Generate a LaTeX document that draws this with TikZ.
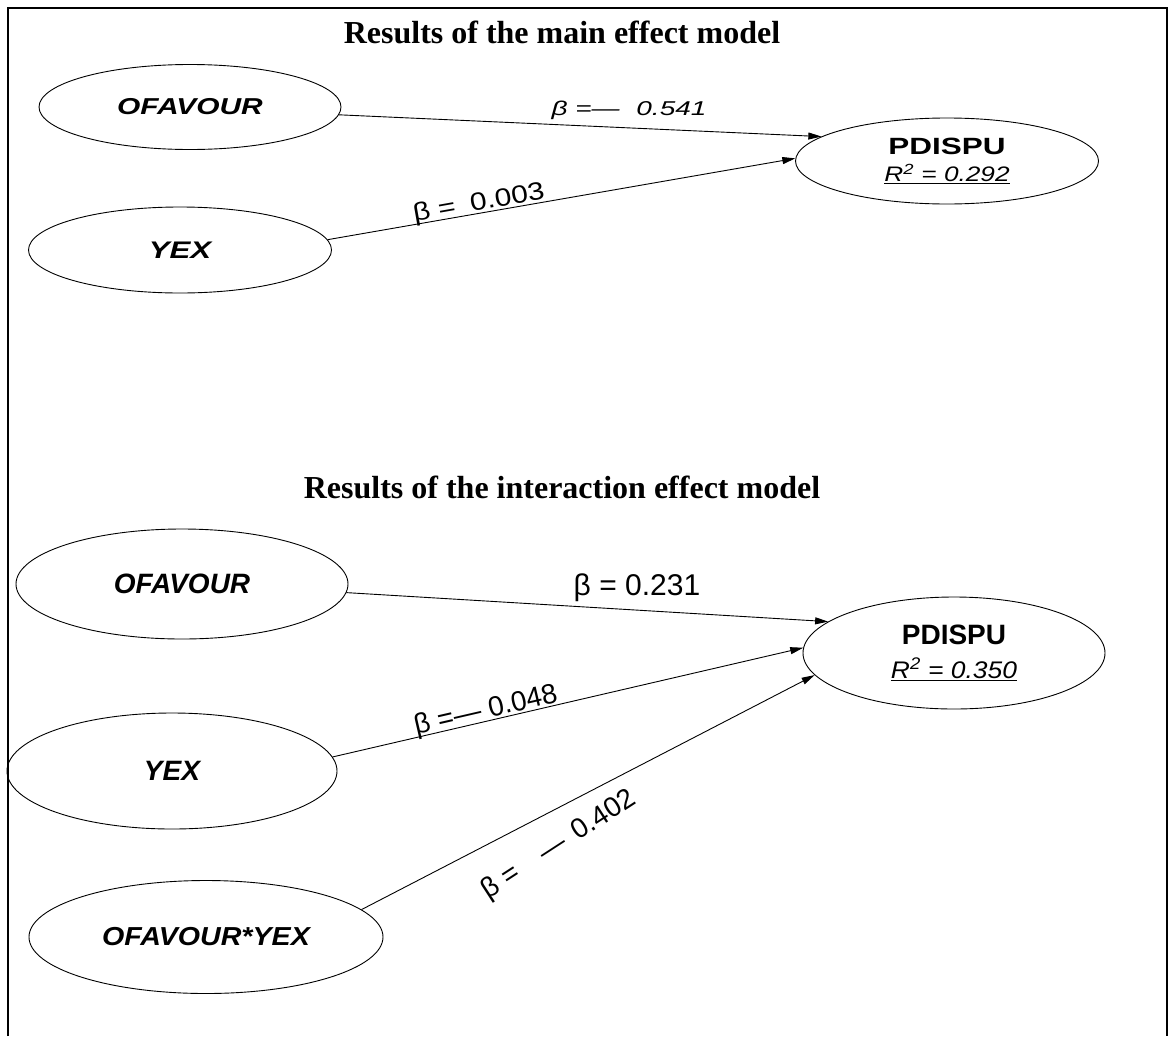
\documentclass[tikz,border=0pt]{standalone}
\usepackage{fontspec}
\setmainfont{Liberation Serif}
\setsansfont{Liberation Sans}
\usetikzlibrary{shapes.geometric,arrows.meta}

% font size shortcut: size and baselineskip equal
\newcommand{\fsz}[1]{\fontsize{#1}{#1}\selectfont}

\begin{document}
\begin{tikzpicture}[x=1pt,y=-1pt,
  var/.style={draw,ellipse,line width=0.9pt,inner sep=0pt,font=\sffamily},
  heading/.style={font=\rmfamily\bfseries\fsz{32},anchor=base,inner sep=0pt},
  effect/.style={line width=0.9pt,-{Triangle[length=13pt,width=7pt]}},
  coef/.style={font=\sffamily,inner sep=0pt}]

\path[use as bounding box] (0,0) rectangle (1169,1036);
% outer frame, open at the bottom
\draw[line width=2.5pt] (8,1036) -- (8,8) -- (1167,8) -- (1167,1036);

% ---------- main effect model ----------
\node[heading] (h1) at (562,43) {Results of the main effect model};

\node[var,minimum width=302pt,minimum height=85pt] (o1) at (190,107)
  {\scalebox{1.3}[1]{\fsz{23}\bfseries\itshape OFAVOUR}};
\node[var,minimum width=303pt,minimum height=86pt] (y1) at (180,250)
  {\scalebox{1.3}[1]{\fsz{24}\bfseries\itshape YEX}};
\node[var,minimum width=303pt,minimum height=86pt,align=center,
      font=\sffamily\fontsize{23}{27}\selectfont] (p1) at (947,161)
  {\scalebox{1.34}[1]{\fsz{23.5}\bfseries PDISPU}\\
   \scalebox{1.25}[1]{\fsz{21}\itshape\underline{R\textsuperscript{2} = 0.292}}};

\draw[effect] (o1.-3) -- (p1.169);
\draw[effect] (y1.4) -- (p1.179);

\node[coef] (c1) at (629,110)
  {\scalebox{1.4}[1]{\fsz{20}\itshape β =—\hspace{0.6em}0.541}};
\node[coef,rotate=10] (c2) at (479,204)
  {\scalebox{1.2}[1]{\fsz{25}β =\hspace{0.5em}0.003}};

% ---------- interaction effect model ----------
\node[heading] (h2) at (562,498) {Results of the interaction effect model};

\node[var,minimum width=332pt,minimum height=110pt] (o2) at (182,584)
  {\fsz{28}\bfseries\itshape OFAVOUR};
\node[var,minimum width=330pt,minimum height=116pt] (y2) at (172,771)
  {\fsz{28}\bfseries\itshape YEX};
\node[var,minimum width=354pt,minimum height=113pt] (oy) at (206,937)
  {\scalebox{1.1}[1]{\fsz{26}\bfseries\itshape OFAVOUR*YEX}};
\node[var,minimum width=302pt,minimum height=112pt,align=center,
      font=\sffamily\fontsize{28}{34}\selectfont] (p2) at (954,653)
  {{\bfseries PDISPU}\\
   \scalebox{1.1}[1]{\fsz{24}\itshape\underline{R\textsuperscript{2} = 0.350}}};

\draw[effect] (o2.-3) -- (p2.166);
\draw[effect] (y2.5) -- (p2.178);
\draw[effect] (oy.10) -- (p2.-171);

\node[coef,anchor=base] (c3) at (637,595) {\fsz{30}β = 0.231};
\node[coef,rotate=13] (c4) at (486,711) {\fsz{28}β =— 0.048};
\node[coef,rotate=33] (c5) at (559,845)
  {\fsz{28}β =\hspace{1em}—\hspace{0.4em}0.402};

\end{tikzpicture}
\end{document}
